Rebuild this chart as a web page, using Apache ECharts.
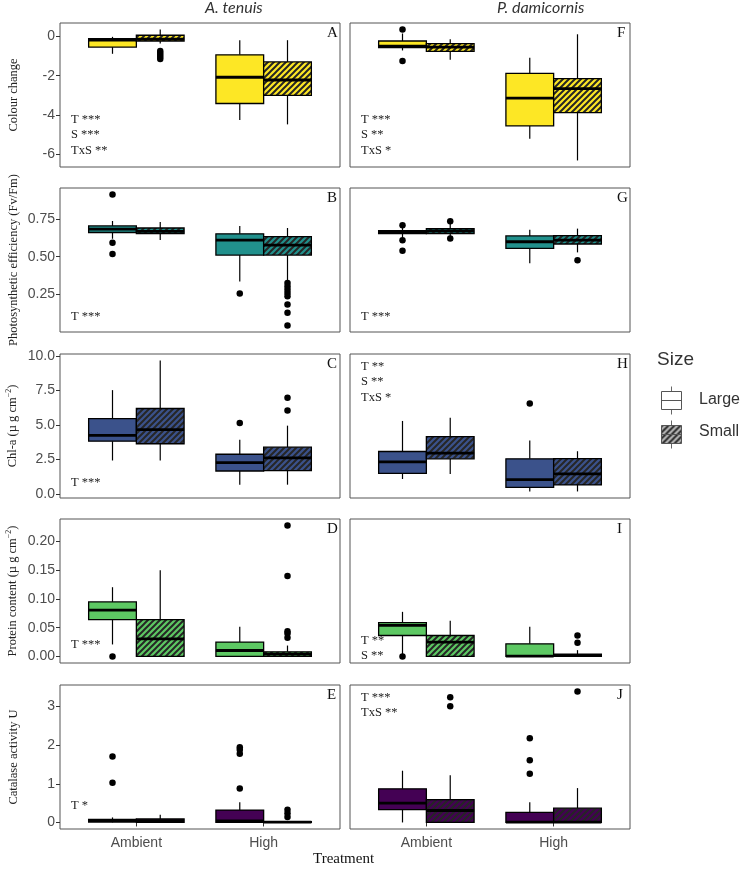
<!DOCTYPE html>
<html>
<head>
<meta charset="utf-8">
<script src="https://cdn.jsdelivr.net/npm/echarts@6/dist/echarts.min.js"></script>
<style>
html, body { margin: 0; padding: 0; background: #fff; }
#main { width: 752px; height: 873px; }
</style>
</head>
<body>
<div id="main"></div>
<script>
// categories
var treatments = ['Ambient', 'High'];
var sizes = ['Large', 'Small'];
var species = ['A. tenuis', 'P. damicornis'];

// box stats [low, q1, median, q3, high], order: Ambient-Large, Ambient-Small, High-Large, High-Small
var colourTenuis = [[-0.89, -0.55, -0.2, -0.12, -0.03], [-0.37, -0.24, -0.15, 0.05, 0.34], [-4.25, -3.41, -2.08, -0.94, -0.2], [-4.47, -3.0, -2.22, -1.3, -0.2]];
var colourTenuisOut = [[], [-0.75, -0.85, -0.95, -1.05, -1.15], [], []];
var colourDamicornis = [[-0.72, -0.58, -0.5, -0.24, 0.14], [-1.19, -0.77, -0.55, -0.37, -0.15], [-5.2, -4.55, -3.14, -1.88, -1.09], [-6.3, -3.87, -2.66, -2.15, 0.1]];
var colourDamicornisOut = [[0.34, -1.26], [], [], []];

var fvfmTenuis = [[0.62, 0.662, 0.684, 0.706, 0.739], [0.611, 0.655, 0.67, 0.692, 0.732], [0.334, 0.511, 0.611, 0.653, 0.706], [0.339, 0.511, 0.578, 0.635, 0.692]];
var fvfmTenuisOut = [[0.916, 0.593, 0.518], [], [0.253], [0.324, 0.301, 0.279, 0.257, 0.235, 0.18, 0.125, 0.04]];
var fvfmDamicornis = [[0.625, 0.655, 0.665, 0.675, 0.70], [0.635, 0.655, 0.672, 0.688, 0.72], [0.456, 0.556, 0.60, 0.639, 0.681], [0.529, 0.585, 0.611, 0.641, 0.688]];
var fvfmDamicornisOut = [[0.71, 0.61, 0.54], [0.737, 0.622], [], [0.476]];

var chlTenuis = [[2.43, 3.83, 4.25, 5.46, 7.52], [2.43, 3.64, 4.66, 6.19, 9.66], [0.68, 1.67, 2.28, 2.88, 3.93], [0.68, 1.70, 2.62, 3.39, 4.95]];
var chlTenuisOut = [[], [], [5.14], [6.96, 6.04]];
var chlDamicornis = [[1.09, 1.50, 2.33, 3.08, 5.29], [1.46, 2.55, 2.96, 4.15, 5.53], [0.19, 0.48, 1.04, 2.55, 3.88], [0.19, 0.66, 1.46, 2.57, 3.1]];
var chlDamicornisOut = [[], [], [6.55], []];

var proteinTenuis = [[0.0209, 0.064, 0.0806, 0.095, 0.1206], [0, 0, 0.0307, 0.064, 0.150], [0, 0, 0.0104, 0.025, 0.0516], [0, 0, 0.004, 0.008, 0.019]];
var proteinTenuisOut = [[0.0], [], [], [0.228, 0.140, 0.044, 0.040, 0.0325]];
var proteinDamicornis = [[0.002, 0.0365, 0.054, 0.059, 0.0777], [0, 0, 0.025, 0.0365, 0.062], [0, 0, 0.0005, 0.022, 0.0516], [0, 0, 0.002, 0.004, 0.011]];
var proteinDamicornisOut = [[0.0], [], [], [0.0365, 0.024]];

var catalaseTenuis = [[0, 0.01, 0.05, 0.08, 0.13], [0, 0, 0.04, 0.09, 0.2], [0, 0, 0.04, 0.32, 0.52], [0, 0, 0.01, 0.02, 0.02]];
var catalaseTenuisOut = [[1.71, 1.03], [], [1.95, 1.88, 1.78, 0.88], [0.33, 0.24, 0.14]];
var catalaseDamicornis = [[0, 0.33, 0.5, 0.87, 1.34], [0, 0, 0.31, 0.59, 1.22], [0, 0, 0.01, 0.26, 0.52], [0, 0, 0.01, 0.37, 0.89]];
var catalaseDamicornisOut = [[], [3.24, 3.01], [2.18, 1.61, 1.26], [3.39]];

// y tick labels per row
var colourTicks = [0, -2, -4, -6];
var fvfmTicks = [0.25, 0.50, 0.75];
var chlTicks = [0, 2.5, 5, 7.5, 10];
var proteinTicks = [0, 0.05, 0.10, 0.15, 0.20];
var catalaseTicks = [0, 1, 2, 3];

// significance text per panel
var sigA = ['T ***', 'S ***', 'TxS **'];
var sigF = ['T ***', 'S **', 'TxS *'];
var sigB = ['T ***'];
var sigG = ['T ***'];
var sigC = ['T ***'];
var sigH = ['T **', 'S **', 'TxS *'];
var sigD = ['T ***'];
var sigI = ['T **', 'S **'];
var sigE = ['T *'];
var sigJ = ['T ***', 'TxS **'];

var rows = [
  { name: 'Colour change', ticks: colourTicks, dec: 0, colour: '#FDE725',
    data: [[colourTenuis, colourTenuisOut], [colourDamicornis, colourDamicornisOut]], letters: ['A', 'F'], sig: [sigA, sigF], sigTop: [false, false] },
  { name: 'Photosynthetic efficiency (Fv/Fm)', ticks: fvfmTicks, dec: 2, colour: '#21908C',
    data: [[fvfmTenuis, fvfmTenuisOut], [fvfmDamicornis, fvfmDamicornisOut]], letters: ['B', 'G'], sig: [sigB, sigG], sigTop: [false, false] },
  { name: 'Chl-a (µ g cm{sup|−2})', ticks: chlTicks, dec: 1, colour: '#3B528B',
    data: [[chlTenuis, chlTenuisOut], [chlDamicornis, chlDamicornisOut]], letters: ['C', 'H'], sig: [sigC, sigH], sigTop: [false, true] },
  { name: 'Protein content (µ g cm{sup|−2})', ticks: proteinTicks, dec: 2, colour: '#5DC863',
    data: [[proteinTenuis, proteinTenuisOut], [proteinDamicornis, proteinDamicornisOut]], letters: ['D', 'I'], sig: [sigD, sigI], sigTop: [false, false] },
  { name: 'Catalase activity U', ticks: catalaseTicks, dec: 0, colour: '#440154',
    data: [[catalaseTenuis, catalaseTenuisOut], [catalaseDamicornis, catalaseDamicornisOut]], letters: ['E', 'J'], sig: [sigE, sigJ], sigTop: [false, true] }
];

var rowTops = [23, 188, 354, 519, 685];
var colLefts = [60, 350];
var panelW = 280, panelH = 144;
var BOX_W = 0.375;
var SERIF = 'Liberation Serif';
var SANS = 'Liberation Sans';

// hatch pattern
function makeHatch(col) {
  var s = 6;
  var c = document.createElement('canvas');
  c.width = s; c.height = s;
  var g = c.getContext('2d');
  g.fillStyle = col;
  g.fillRect(0, 0, s, s);
  g.strokeStyle = '#262626';
  g.lineWidth = 2;
  g.beginPath();
  g.moveTo(0, s); g.lineTo(s, 0);
  g.moveTo(-1, 1); g.lineTo(1, -1);
  g.moveTo(s - 1, s + 1); g.lineTo(s + 1, s - 1);
  g.stroke();
  return { type: 'pattern', image: c, repeat: 'repeat' };
}

function boxRenderer(fillCol, hatch) {
  return function (params, api) {
    var xv = api.value(0);
    var pLo = api.coord([xv, api.value(1)]);
    var pQ1 = api.coord([xv, api.value(2)]);
    var pMed = api.coord([xv, api.value(3)]);
    var pQ3 = api.coord([xv, api.value(4)]);
    var pHi = api.coord([xv, api.value(5)]);
    var isSmall = api.value(6) === 1;
    var half = api.size([BOX_W, 0])[0] / 2;
    var cx = pLo[0];
    return {
      type: 'group',
      children: [
        { type: 'line', shape: { x1: cx, y1: pHi[1], x2: cx, y2: pQ3[1] }, style: { stroke: '#000', lineWidth: 1.2 } },
        { type: 'line', shape: { x1: cx, y1: pQ1[1], x2: cx, y2: pLo[1] }, style: { stroke: '#000', lineWidth: 1.2 } },
        { type: 'rect', shape: { x: cx - half, y: pQ3[1], width: half * 2, height: Math.max(pQ1[1] - pQ3[1], 0.5) },
          style: { fill: isSmall ? hatch : fillCol, stroke: '#000', lineWidth: 1.3 } },
        { type: 'line', shape: { x1: cx - half, y1: pMed[1], x2: cx + half, y2: pMed[1] }, style: { stroke: '#000', lineWidth: 2.8 } }
      ]
    };
  };
}

var grids = [], xAxes = [], yAxes = [], series = [], graphics = [];

rows.forEach(function (row, r) {
  // shared y range per row, 5% padding like ggplot
  var all = [];
  row.data.forEach(function (d) {
    d[0].forEach(function (s) { all = all.concat(s); });
    d[1].forEach(function (o) { all = all.concat(o); });
  });
  var lo = Math.min.apply(null, all), hi = Math.max.apply(null, all);
  var pad = (hi - lo) * 0.05;
  var hatch = makeHatch(row.colour);

  for (var c = 0; c < 2; c++) {
    var gi = r * 2 + c;
    grids.push({ left: colLefts[c], top: rowTops[r], width: panelW, height: panelH,
      show: true, borderColor: '#555', borderWidth: 1, backgroundColor: '#fff' });
    var bottomRow = r === rows.length - 1;
    xAxes.push({
      type: 'value', gridIndex: gi, min: 0.4, max: 2.6,
      axisLine: { show: false }, splitLine: { show: false },
      axisTick: { show: bottomRow, customValues: [1, 2], length: 4, lineStyle: { color: '#333' } },
      axisLabel: { show: bottomRow, customValues: [1, 2], color: '#4D4D4D', fontSize: 14, fontFamily: SANS, margin: 7,
        formatter: function (v) { return treatments[Math.round(v) - 1]; } }
    });
    yAxes.push({
      type: 'value', gridIndex: gi, min: lo - pad, max: hi + pad,
      axisLine: { show: false }, splitLine: { show: false },
      axisTick: { show: c === 0, customValues: row.ticks, length: 4, lineStyle: { color: '#333' } },
      axisLabel: { show: c === 0, customValues: row.ticks, color: '#4D4D4D', fontSize: 14, fontFamily: SANS, margin: 5,
        formatter: (function (dec) { return function (v) { return v.toFixed(dec); }; })(row.dec) },
      name: c === 0 ? row.name : '', nameLocation: 'middle', nameGap: 40, nameRotate: 90,
      nameTextStyle: { fontFamily: SERIF, fontSize: 12.5, color: '#222',
        rich: { sup: { fontFamily: SERIF, fontSize: 8, color: '#222', padding: [0, 0, 7, 0] } } }
    });

    var stats = row.data[c][0], outs = row.data[c][1];
    var boxData = [], outData = [];
    for (var k = 0; k < 4; k++) {
      var t = Math.floor(k / 2), sz = k % 2;
      var xv = t + 1 + (sz === 0 ? -BOX_W / 2 : BOX_W / 2);
      boxData.push([xv].concat(stats[k]).concat([sz]));
      outs[k].forEach(function (v) { outData.push([t + 1 + (sz === 0 ? -BOX_W / 2 : BOX_W / 2), v]); });
    }
    series.push({
      type: 'custom', xAxisIndex: gi, yAxisIndex: gi,
      renderItem: boxRenderer(row.colour, hatch),
      encode: { x: 0, y: [1, 2, 3, 4, 5] },
      data: boxData, silent: true, animation: false
    });
    series.push({
      type: 'scatter', xAxisIndex: gi, yAxisIndex: gi, symbolSize: 6.5,
      itemStyle: { color: '#000', opacity: 1 }, data: outData, silent: true, animation: false, z: 3
    });

    // panel letter
    graphics.push({ type: 'text', left: colLefts[c] + panelW - 13, top: rowTops[r] + 3,
      style: { text: row.letters[c], font: '15px ' + SERIF, fill: '#111' } });
    // significance labels
    var sig = row.sig[c];
    var x0 = colLefts[c] + 11;
    var yStart = row.sigTop[c] ? rowTops[r] + 6 : rowTops[r] + panelH - 8 - sig.length * 16 + 2;
    if (r === 3 && c === 0) yStart = rowTops[r] + panelH - 25;
    if (r === 3 && c === 1) yStart = rowTops[r] + panelH - 29;
    if (r === 4 && c === 0) yStart = rowTops[r] + panelH - 30;
    sig.forEach(function (s, i) {
      graphics.push({ type: 'text', left: x0, top: yStart + i * 15.5,
        style: { text: s, font: '12.5px ' + SERIF, fill: '#222' } });
    });
  }
});

// column titles
graphics.push({ type: 'text', left: 205, top: 0, style: { text: species[0], font: 'italic 16px Lato', fill: '#333', textAlign: 'center' } });
graphics.push({ type: 'text', left: 497, top: 0, style: { text: species[1], font: 'italic 16px Lato', fill: '#333', textAlign: 'center' } });
// x axis title
graphics.push({ type: 'text', left: 313, top: 852, style: { text: 'Treatment', font: '15px ' + SERIF, fill: '#111' } });

// legend
var hatchGrey = makeHatch('#bdbdbd');
graphics.push({ type: 'text', left: 657, top: 350, style: { text: 'Size', font: '19px ' + SANS, fill: '#333' } });
function legendKey(y, fill) {
  return {
    type: 'group', left: 659, top: y,
    children: [
      { type: 'line', shape: { x1: 10, y1: 0, x2: 10, y2: 28 }, style: { stroke: '#666', lineWidth: 1 } },
      { type: 'rect', shape: { x: 0, y: 5, width: 20, height: 18 }, style: { fill: fill, stroke: '#555', lineWidth: 1 } },
      { type: 'line', shape: { x1: 0, y1: 14, x2: 20, y2: 14 }, style: { stroke: '#555', lineWidth: 1 } }
    ]
  };
}
graphics.push(legendKey(384, '#fff'));
graphics.push(legendKey(418, hatchGrey));
graphics.push({ type: 'text', left: 699, top: 392, style: { text: sizes[0], font: '16px ' + SANS, fill: '#333' } });
graphics.push({ type: 'text', left: 699, top: 424, style: { text: sizes[1], font: '16px ' + SANS, fill: '#333' } });

var chart = echarts.init(document.getElementById('main'));
chart.setOption({
  animation: false,
  backgroundColor: '#fff',
  grid: grids,
  xAxis: xAxes,
  yAxis: yAxes,
  series: series,
  graphic: graphics
});
</script>
</body>
</html>
